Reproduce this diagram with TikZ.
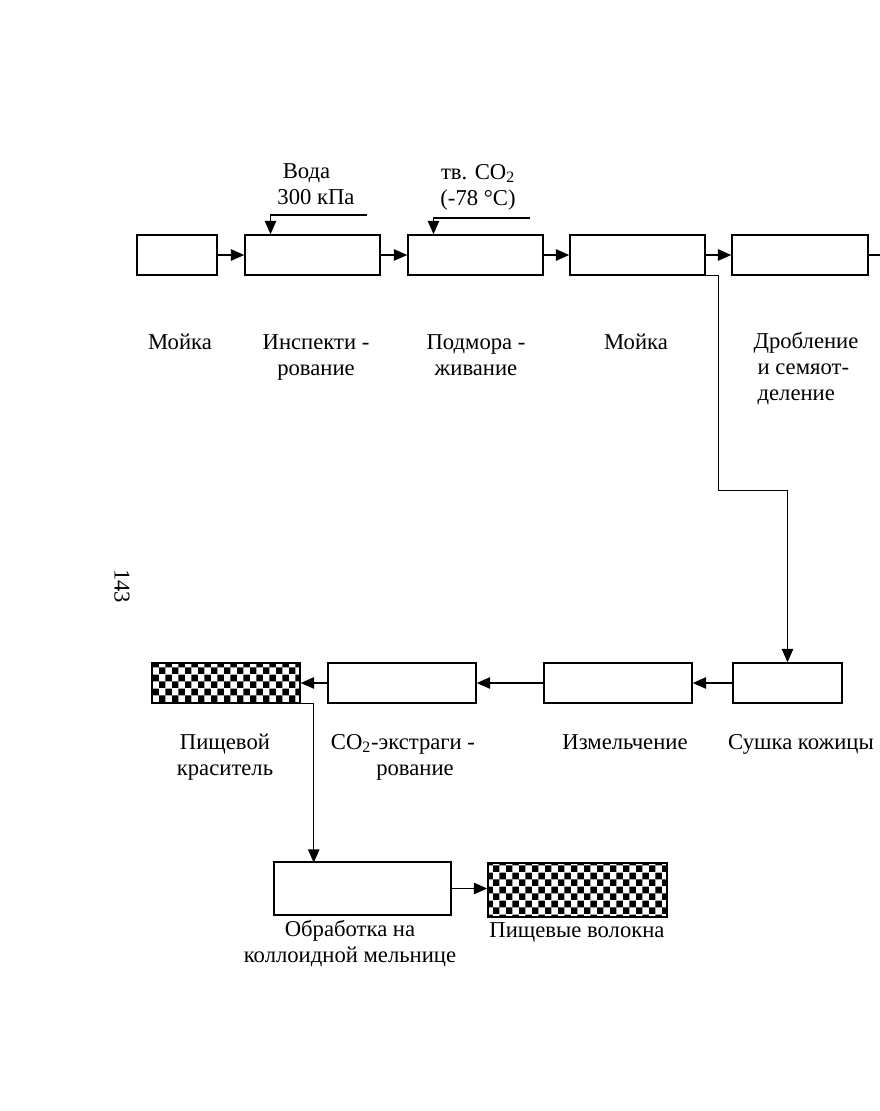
\documentclass[tikz,border=0pt]{standalone}
\usepackage{fontspec}
\setmainfont{Liberation Serif}
\usetikzlibrary{arrows.meta,patterns.meta}

\tikzdeclarepattern{
  name=checks,
  type=uncolored,
  bounding box={(0pt,0pt) and (10pt,10.6pt)},
  tile size={(10pt,10.6pt)},
  code={
    \fill (0pt,0pt) rectangle (5pt,5.3pt);
    \fill (5pt,5.3pt) rectangle (10pt,10.6pt);
  }
}

\begin{document}
\begin{tikzpicture}[
  x=0.75pt, y=-0.75pt, font=\fontsize{17}{19.5}\selectfont,
  box/.style={draw, line width=1.1pt, minimum height=30pt, inner sep=0pt},
  hbox/.style={box, pattern=checks},
  lbl/.style={align=center, inner sep=0pt, anchor=north},
  ar/.style={-{Triangle[length=10pt,width=8.5pt]}, line width=1.1pt},
  ln/.style={line width=1.1pt},
]
\useasboundingbox (0,0) rectangle (880,1111);

% ---------------------------------------------------------------- upper row
\node[box, minimum width=60pt]     (wash1) at (177,255)   {};
\node[box, minimum width=101.25pt] (insp)  at (312.5,255) {};
\node[box, minimum width=101.25pt] (frz)   at (475.5,255) {};
\node[box, minimum width=101.25pt] (wash2) at (637.5,255) {};
\node[box, minimum width=102pt]    (crush) at (800,255)   {};
\coordinate (cut) at (880,255);

\node[lbl, align=left] (water) at (316,163) {\hspace{4pt}Вода\\300 кПа};
\node[lbl] (ice) at (478,164) {тв. CO\textsubscript{2}\\(-78 °C)};
\coordinate (waterin) at (367,215);
\coordinate (icein)   at (530,218);

\node[lbl] (l1) at (180,334) {Мойка};
\node[lbl] (l2) at (316,334) {Инспекти -\\рование};
\node[lbl] (l3) at (476,334) {Подмора -\\живание};
\node[lbl] (l4) at (636,334) {Мойка};
\node[lbl, align=left] (l5) at (806,332) {Дробление\\\hspace{3pt}и семяот-\\\hspace{3pt}деление};

% ---------------------------------------------------------------- lower row
\node[hbox, minimum width=111pt]   (dye)   at (226,683)   {};
\node[box, minimum width=111pt]    (extr)  at (402,683)   {};
\node[box, minimum width=111pt]    (grind) at (618,683)   {};
\node[box, minimum width=81.75pt]  (dry)   at (787.5,683) {};

\node[lbl] (l6) at (225,734) {Пищевой\\краситель};
\node[lbl] (l7) at (403,734) {CO\textsubscript{2}-экстраги -\\\hspace{18pt}рование};
\node[lbl] (l8) at (625,734) {Измельчение};
\node[lbl] (l9) at (801,734) {Сушка кожицы};

% ---------------------------------------------------------------- mill
\node[box, minimum width=132.75pt, minimum height=39.75pt] (mill)  at (362.5,888.5) {};
\node[hbox, minimum width=134.25pt, minimum height=40.5pt] (fiber) at (577.5,890)   {};

\node[lbl] (l10) at (350,920) {Обработка на\\коллоидной мельнице};
\node[lbl] (l11) at (577,922) {Пищевые волокна};

% page number
\node[rotate=-90] (pg) at (122,586) {143};

% ---------------------------------------------------------------- arrows
\draw[ar] (wash1.east) -- (insp.west);
\draw[ar] (insp.east) -- (frz.west);
\draw[ar] (frz.east) -- (wash2.west);
\draw[ar] (wash2.east) -- (crush.west);
\draw[ln] (crush.east) -- (cut);
\draw[ar] (waterin) -| ([xshift=-31.5pt]insp.north);
\draw[ar] (icein) -| ([xshift=-31.5pt]frz.north);
\draw[ar] (wash2.south east) -- ++(13,0) -- ++(0,215) -| (dry.north);
\draw[ar] (dry.west) -- (grind.east);
\draw[ar] (grind.west) -- (extr.east);
\draw[ar] (extr.west) -- (dye.east);
\draw[ar] (dye.south east) -- ++(13,0) -- ++(0,159);
\draw[ar] (mill.east) -- (mill.east -| fiber.west);

\end{tikzpicture}
\end{document}
